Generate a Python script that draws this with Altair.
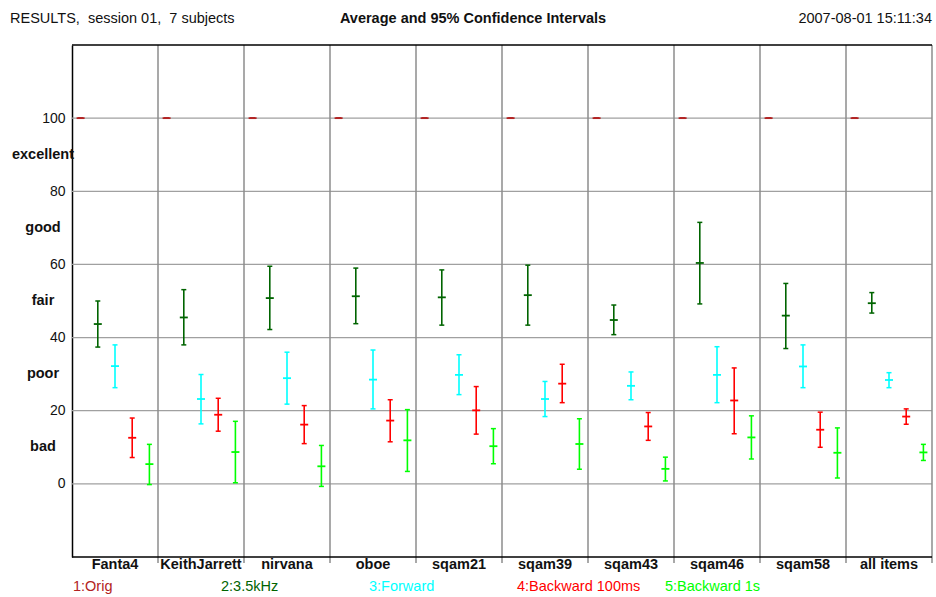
import altair as alt
import pandas as pd

# ---- data -------------------------------------------------------------
items = ["Fanta4", "KeithJarrett", "nirvana", "oboe", "sqam21",
         "sqam39", "sqam43", "sqam46", "sqam58", "all items"]
conditions = ["1:Orig", "2:3.5kHz", "3:Forward", "4:Backward 100ms", "5:Backward 1s"]
cond_colors = ["#b22222", "#006400", "#00ffff", "#ff0000", "#00ff00"]

orig_mean = [100, 100, 100, 100, 100, 100, 100, 100, 100, 100]
orig_low = [100, 100, 100, 100, 100, 100, 100, 100, 100, 100]
orig_high = [100, 100, 100, 100, 100, 100, 100, 100, 100, 100]

lp_mean = [43.7, 45.5, 50.8, 51.3, 51.0, 51.6, 44.8, 60.4, 46.0, 49.4]
lp_low = [37.4, 38.0, 42.2, 43.8, 43.4, 43.4, 40.8, 49.2, 37.0, 46.7]
lp_high = [50.0, 53.1, 59.5, 59.0, 58.5, 59.8, 48.9, 71.5, 54.8, 52.3]

fwd_mean = [32.2, 23.2, 28.9, 28.5, 29.8, 23.2, 26.8, 29.8, 32.1, 28.4]
fwd_low = [26.3, 16.4, 21.8, 20.5, 24.4, 18.4, 23.0, 22.2, 26.3, 26.3]
fwd_high = [38.0, 29.9, 36.0, 36.6, 35.3, 28.0, 30.6, 37.5, 38.0, 30.4]

bw100_mean = [12.6, 18.9, 16.2, 17.3, 20.1, 27.4, 15.7, 22.8, 14.8, 18.4]
bw100_low = [7.2, 14.4, 11.0, 11.5, 13.6, 22.2, 11.9, 13.7, 10.0, 16.3]
bw100_high = [18.0, 23.4, 21.4, 23.0, 26.6, 32.7, 19.5, 31.7, 19.6, 20.5]

bw1s_mean = [5.4, 8.7, 4.8, 11.9, 10.3, 10.9, 4.1, 12.7, 8.5, 8.6]
bw1s_low = [-0.2, 0.3, -0.7, 3.4, 5.5, 4.0, 0.8, 6.8, 1.6, 6.4]
bw1s_high = [10.8, 17.1, 10.5, 20.3, 15.1, 17.8, 7.3, 18.6, 15.3, 10.8]

grid_values = [0, 20, 40, 60, 80, 100]
rating_labels = ["excellent", "good", "fair", "poor", "bad"]
rating_values = [90, 70, 50, 30, 10]

# non-breaking spaces keep the double gaps from collapsing in SVG text
header_left = "RESULTS,\u00a0 session 01,\u00a0 7 subjects"
header_title = "Average and 95% Confidence Intervals"
header_right = "2007-08-01 15:11:34"

# ---- long table: one row per (item, condition) -----------------------
series = [
    (orig_mean, orig_low, orig_high),
    (lp_mean, lp_low, lp_high),
    (fwd_mean, fwd_low, fwd_high),
    (bw100_mean, bw100_low, bw100_high),
    (bw1s_mean, bw1s_low, bw1s_high),
]
n_cond = len(conditions)
rows = []
for j, (m, lo, hi) in enumerate(series):
    for i, item in enumerate(items):
        rows.append({
            "item": item,
            "cond": conditions[j],
            # each item owns one unit on x, split into equal slots per condition
            "pos": i + (j + 0.5) / n_cond,
            "mean": m[i],
            "low": lo[i],
            "high": hi[i],
        })
df = pd.DataFrame(rows)

W, H = 860, 512
FONT = "Liberation Sans"
TXT = "#111111"

xs = alt.Scale(domain=[0, len(items)], nice=False, zero=False)
ys = alt.Scale(domain=[-20, 120], nice=False, zero=False)
yaxis = alt.Axis(values=grid_values, grid=False, ticks=False, domain=True,
                 domainColor="black", domainWidth=1.5, labelFontSize=14,
                 labelPadding=7, labelColor=TXT, labelFont=FONT, title=None)
color = alt.Color("cond:N", scale=alt.Scale(domain=conditions, range=cond_colors),
                  legend=None)

# ---- frame: grid, panel separators, borders ---------------------------
hgrid = alt.Chart(pd.DataFrame({"v": grid_values})).mark_rule(
    color="#a0a0a0", strokeWidth=1.2
).encode(
    y=alt.Y("v:Q", scale=ys, axis=yaxis),
    x=alt.value(0), x2=alt.value(W),
)

seps = alt.Chart(pd.DataFrame({"b": list(range(1, len(items) + 1))})).mark_rule(
    color="#8c8c8c", strokeWidth=1.5
).encode(
    x=alt.X("b:Q", scale=xs, axis=None),
    y=alt.value(0), y2=alt.value(H + 6),
)

border = alt.Chart(pd.DataFrame({"v": [120, -20]})).mark_rule(
    color="black", strokeWidth=1.5
).encode(
    y=alt.Y("v:Q", scale=ys, axis=yaxis),
    x=alt.value(0), x2=alt.value(W),
)

# ---- confidence intervals and means ----------------------------------
base = alt.Chart(df).encode(x=alt.X("pos:Q", scale=xs, axis=None), color=color)

ci = base.mark_rule(strokeWidth=1.6).encode(
    y=alt.Y("low:Q", scale=ys, axis=yaxis), y2="high:Q"
)
cap_lo = base.mark_tick(orient="horizontal", size=5, thickness=1.5, opacity=1).encode(
    y=alt.Y("low:Q", scale=ys, axis=yaxis)
)
cap_hi = base.mark_tick(orient="horizontal", size=5, thickness=1.5, opacity=1).encode(
    y=alt.Y("high:Q", scale=ys, axis=yaxis)
)
mean_tick = base.mark_tick(orient="horizontal", size=8, thickness=1.8, opacity=1).encode(
    y=alt.Y("mean:Q", scale=ys, axis=yaxis)
)

# ---- texts ------------------------------------------------------------
ratings = alt.Chart(pd.DataFrame({"r": rating_labels, "v": rating_values})).mark_text(
    font=FONT, fontSize=14.5, fontWeight="bold", color=TXT, align="center",
    baseline="middle"
).encode(
    text="r:N", y=alt.Y("v:Q", scale=ys, axis=yaxis), x=alt.value(-29)
)

item_labels = alt.Chart(pd.DataFrame({
    "item": items, "c": [i + 0.5 for i in range(len(items))]
})).mark_text(
    font=FONT, fontSize=14.5, fontWeight="bold", color=TXT, align="center",
    baseline="alphabetic"
).encode(
    text="item:N", x=alt.X("c:Q", scale=xs, axis=None), y=alt.value(H + 12)
)

legend_layers = []
for j, cond in enumerate(conditions):
    legend_layers.append(
        alt.Chart(pd.DataFrame({"cond": [cond]})).mark_text(
            font=FONT, fontSize=14.5, align="left", baseline="alphabetic"
        ).encode(
            text="cond:N", color=color,
            x=alt.value(1 + 148 * j), y=alt.value(H + 34),
        )
    )

hdr = pd.DataFrame({"t": [header_left]})
head_left = alt.Chart(hdr).mark_text(
    font=FONT, fontSize=14.5, color=TXT, align="left", baseline="alphabetic"
).encode(text="t:N", x=alt.value(-62), y=alt.value(-22))

head_title = alt.Chart(pd.DataFrame({"t": [header_title]})).mark_text(
    font=FONT, fontSize=14.5, fontWeight="bold", color=TXT, align="center",
    baseline="alphabetic"
).encode(text="t:N", x=alt.value(401), y=alt.value(-22))

head_right = alt.Chart(pd.DataFrame({"t": [header_right]})).mark_text(
    font=FONT, fontSize=14.5, color=TXT, align="right", baseline="alphabetic"
).encode(text="t:N", x=alt.value(860), y=alt.value(-22))

chart = alt.layer(
    hgrid, seps, border, ci, cap_lo, cap_hi, mean_tick,
    ratings, item_labels, *legend_layers, head_left, head_title, head_right,
).properties(
    width=W, height=H,
    autosize=alt.AutoSizeParams(type="none"),
    padding={"left": 72, "top": 45, "right": 4, "bottom": 40},
    background="white",
).configure_view(stroke=None)

chart.save("out.html", embed_options={"renderer": "svg", "actions": False})
